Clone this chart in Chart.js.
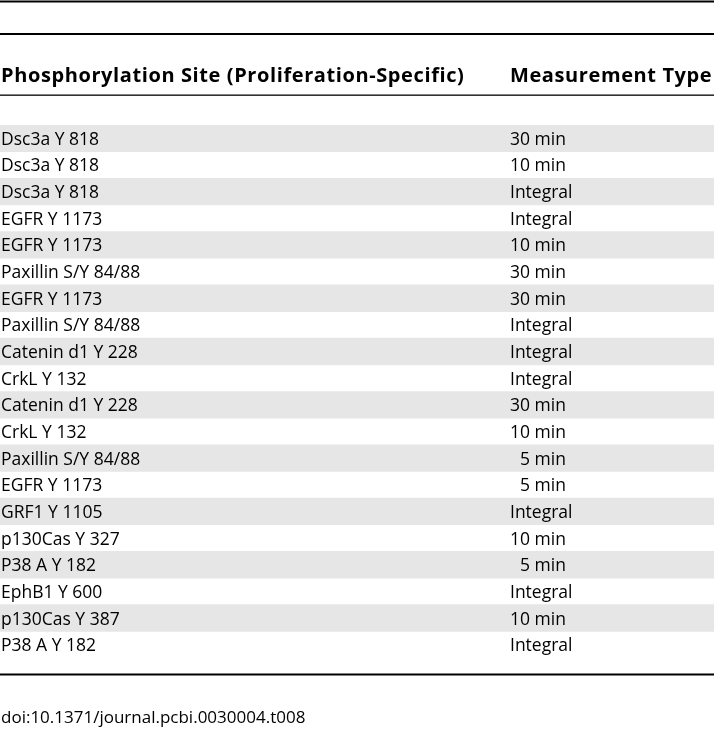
<!DOCTYPE html>
<html>
<head>
<meta charset="utf-8">
<script src="https://cdn.jsdelivr.net/npm/chart.js@4"></script>
<style>
    html, body { margin: 0; padding: 0; background: #fff; }
    #wrap { width: 714px; height: 731px; position: relative; }
</style>
</head>
<body>
<div id="wrap"><canvas id="tableChart"></canvas></div>
<script>
// Table contents
const headers = ['Phosphorylation Site (Proliferation-Specific)', 'Measurement Type'];
const sites = [
    'Dsc3a Y 818', 'Dsc3a Y 818', 'Dsc3a Y 818', 'EGFR Y 1173', 'EGFR Y 1173',
    'Paxillin S/Y 84/88', 'EGFR Y 1173', 'Paxillin S/Y 84/88', 'Catenin d1 Y 228', 'CrkL Y 132',
    'Catenin d1 Y 228', 'CrkL Y 132', 'Paxillin S/Y 84/88', 'EGFR Y 1173', 'GRF1 Y 1105',
    'p130Cas Y 327', 'P38 A Y 182', 'EphB1 Y 600', 'p130Cas Y 387', 'P38 A Y 182'
];
const measurements = [
    '30 min', '10 min', 'Integral', 'Integral', '10 min',
    '30 min', '30 min', 'Integral', 'Integral', 'Integral',
    '30 min', '10 min', '5 min', '5 min', 'Integral',
    '10 min', '5 min', 'Integral', '10 min', 'Integral'
];
const footnote = 'doi:10.1371/journal.pcbi.0030004.t008';

// row index used as category so duplicate site names stay separate
const rowKeys = sites.map((s, i) => i);
const stripes = rowKeys.map(i => (i % 2 === 0 ? 1 : null));

const FONT = '"Open Sans", "Noto Sans", sans-serif';

const tablePlugin = {
    id: 'tableText',
    afterDatasetsDraw(chart) {
        const ctx = chart.ctx;
        const yScale = chart.scales.y;
        const w = chart.width;
        const col2 = 510;

        ctx.save();
        // rules
        ctx.fillStyle = '#000';
        ctx.fillRect(0, 0.5, w, 2);
        ctx.fillRect(0, 33, w, 2);
        ctx.fillRect(0, 94.5, w, 1.3);
        ctx.fillRect(0, 673.5, w, 2);

        // header
        ctx.fillStyle = '#000';
        ctx.textBaseline = 'alphabetic';
        ctx.textAlign = 'left';
        ctx.font = 'bold 20px ' + FONT;
        ctx.letterSpacing = '0.6px';
        ctx.fillText(headers[0], 1, 82);
        ctx.fillText(headers[1], col2, 82);
        ctx.letterSpacing = '0px';

        // body cells
        ctx.font = '17.5px ' + FONT;
        const digitW = ctx.measureText('0').width;
        rowKeys.forEach(i => {
            const y = yScale.getPixelForValue(i) + 6.5;
            ctx.fillText(sites[i], 1, y);
            const m = measurements[i];
            const shift = /^\d\s/.test(m) ? digitW : 0;
            ctx.fillText(m, col2 + shift, y);
        });

        // footnote
        ctx.font = '17px ' + FONT;
        ctx.fillText(footnote, 1, 723);
        ctx.restore();
    }
};

new Chart(document.getElementById('tableChart'), {
    type: 'bar',
    data: {
        labels: rowKeys,
        datasets: [{
            data: stripes,
            backgroundColor: '#e6e6e6',
            borderWidth: 0,
            barPercentage: 1,
            categoryPercentage: 1
        }]
    },
    options: {
        indexAxis: 'y',
        responsive: true,
        maintainAspectRatio: false,
        animation: false,
        layout: { padding: { top: 125, bottom: 731 - 658, left: 0, right: 0 } },
        scales: {
            x: { display: false, min: 0, max: 1 },
            y: { display: false }
        },
        plugins: {
            legend: { display: false },
            tooltip: { enabled: false }
        }
    },
    plugins: [tablePlugin]
});
</script>
</body>
</html>
